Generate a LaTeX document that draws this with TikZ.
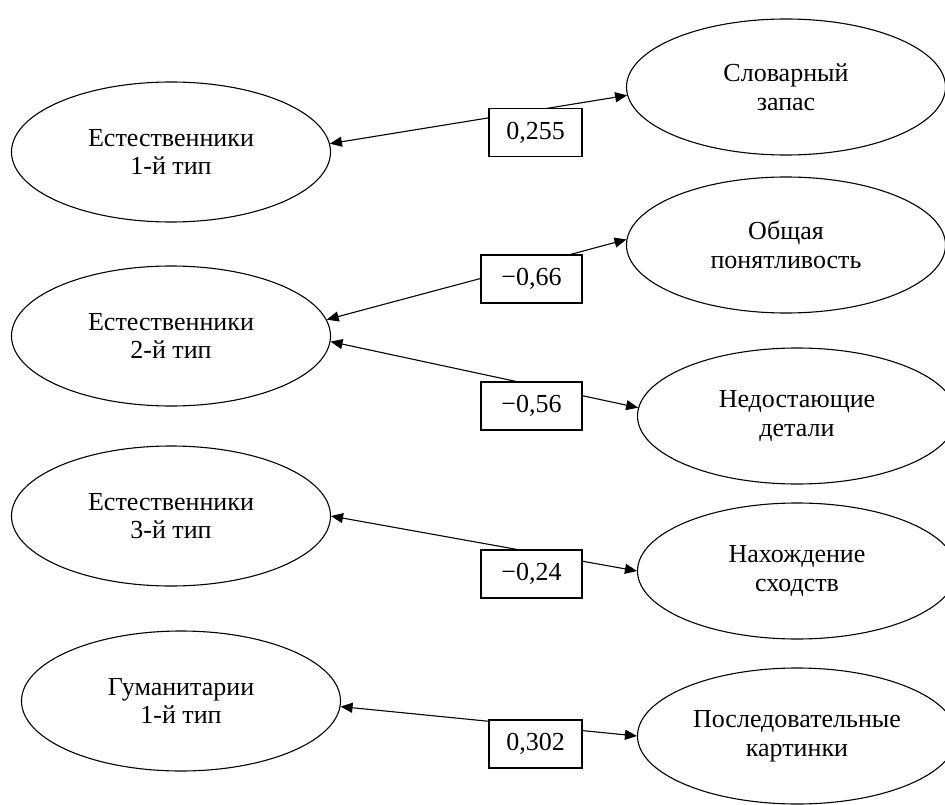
\documentclass[tikz,border=0pt]{standalone}
\usepackage{fontspec}
\setmainfont{Liberation Serif}
\usetikzlibrary{shapes.geometric,arrows.meta}
\begin{document}
\begin{tikzpicture}[x=1pt,y=-1pt,
  oval/.style={draw, ellipse, line width=1.1pt, minimum width=319pt, minimum height=140pt, inner sep=0pt, align=center, font=\fontsize{26}{28.5}\selectfont},
  roval/.style={oval, minimum height=136pt},
  valbox/.style={draw, fill=white, line width=1.1pt, minimum height=48pt, inner sep=0pt, font=\fontsize{26}{28.5}\selectfont},
  link/.style={line width=1.1pt, {Triangle[length=12pt,width=10pt]}-{Triangle[length=12pt,width=10pt]}}
]
\useasboundingbox (0,0) rectangle (945,805);
\clip (0,0) rectangle (945,805);
% left ellipses
\node[oval] (L1) at (171,152) {Естественники\\1-й тип};
\node[oval] (L2) at (171,336) {Естественники\\2-й тип};
\node[oval] (L3) at (171,516) {Естественники\\3-й тип};
\node[oval] (L4) at (181,701) {Гуманитарии\\1-й тип};
% right ellipses
\node[roval] (R1) at (786,87) {Словарный\\запас};
\node[roval] (R2) at (786,245) {Общая\\понятливость};
\node[roval] (R3) at (797,416) {Недостающие\\детали};
\node[roval] (R4) at (797,571) {Нахождение\\сходств};
\node[roval] (R5) at (797,736) {Последовательные\\картинки};
% connectors
\draw[link] (L1.3.6) -- (R1.183.6);
\draw[link] (L2.6.4) -- (R2.178.9);
\draw[link] (L2.-2.1) -- (R3.177.8);
\draw[link] (L3.0) -- (R4.180.4);
\draw[link] (L4.-2.2) -- (R5.180.7);
% value boxes
\node[valbox, minimum width=93pt] (B1) at (535.5,132.5) {0,255};
\node[valbox, minimum width=101pt] (B2) at (531.5,279) {−0,66};
\node[valbox, minimum width=101pt] (B3) at (531.5,406) {−0,56};
\node[valbox, minimum width=101pt] (B4) at (531.5,574) {−0,24};
\node[valbox, minimum width=93pt] (B5) at (535.5,744) {0,302};
\end{tikzpicture}
\end{document}
